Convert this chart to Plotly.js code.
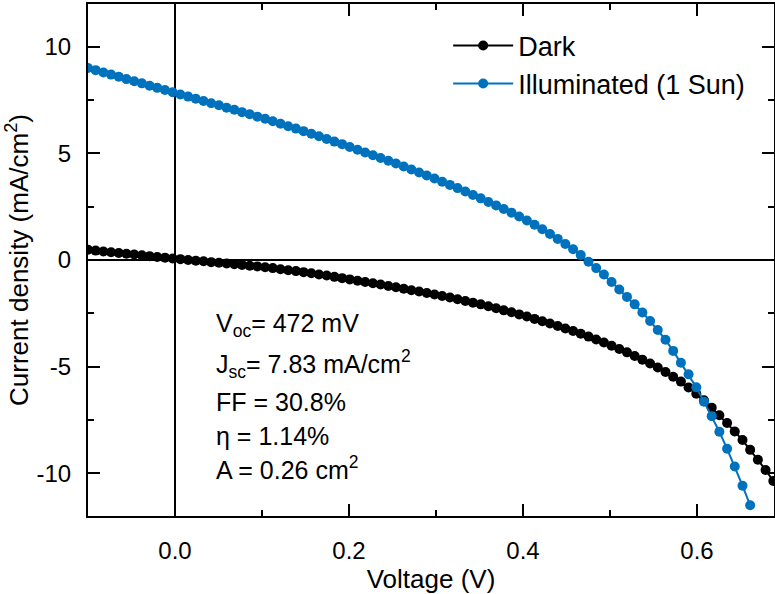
<!DOCTYPE html>
<html>
<head>
<meta charset="utf-8">
<script src="https://cdn.plot.ly/plotly-3.0.1.min.js"></script>
<style>html,body{margin:0;padding:0;background:#fff;}#chart{width:775px;height:594px;}</style>
</head>
<body>
<div id="chart"></div>
<script>
// Voltage sweep (V)
var voltage = [
  -0.1000, -0.0912, -0.0823, -0.0735, -0.0646, -0.0558, -0.0469, -0.0381, -0.0292, -0.0204,
  -0.0115, -0.0027, 0.0062, 0.0151, 0.0239, 0.0328, 0.0416, 0.0505, 0.0593, 0.0682,
  0.0770, 0.0859, 0.0947, 0.1036, 0.1124, 0.1213, 0.1301, 0.1390, 0.1478, 0.1567,
  0.1655, 0.1744, 0.1832, 0.1921, 0.2009, 0.2098, 0.2186, 0.2275, 0.2363, 0.2452,
  0.2540, 0.2629, 0.2717, 0.2806, 0.2894, 0.2983, 0.3071, 0.3160, 0.3248, 0.3337,
  0.3425, 0.3514, 0.3602, 0.3691, 0.3779, 0.3868, 0.3956, 0.4045, 0.4133, 0.4222,
  0.4310, 0.4399, 0.4487, 0.4576, 0.4664, 0.4753, 0.4841, 0.4930, 0.5018, 0.5107,
  0.5195, 0.5284, 0.5372, 0.5461, 0.5549, 0.5638, 0.5726, 0.5815, 0.5903, 0.5992,
  0.6080, 0.6169, 0.6257, 0.6346, 0.6434, 0.6523, 0.6611, 0.6700, 0.6788, 0.6877
];

// Dark current density (mA/cm^2)
var darkJ = [
  0.48, 0.44, 0.40, 0.36, 0.33, 0.29, 0.26, 0.22, 0.18, 0.14,
  0.11, 0.07, 0.04, 0.00, -0.03, -0.06, -0.10, -0.13, -0.16, -0.20,
  -0.23, -0.27, -0.30, -0.34, -0.38, -0.43, -0.48, -0.52, -0.57, -0.62,
  -0.68, -0.73, -0.79, -0.85, -0.91, -0.97, -1.03, -1.09, -1.15, -1.22,
  -1.28, -1.35, -1.42, -1.48, -1.55, -1.62, -1.69, -1.76, -1.84, -1.92,
  -2.00, -2.08, -2.17, -2.26, -2.36, -2.45, -2.55, -2.65, -2.76, -2.87,
  -2.98, -3.09, -3.21, -3.33, -3.46, -3.59, -3.73, -3.87, -4.02, -4.17,
  -4.33, -4.50, -4.67, -4.85, -5.04, -5.25, -5.47, -5.70, -5.98, -6.27,
  -6.58, -6.92, -7.28, -7.64, -8.04, -8.44, -8.90, -9.36, -9.84, -10.36
];

// Illuminated (1 Sun) current density (mA/cm^2)
var lightJ = [
  9.00, 8.90, 8.79, 8.69, 8.59, 8.48, 8.38, 8.28, 8.17, 8.07,
  7.97, 7.86, 7.76, 7.66, 7.56, 7.45, 7.35, 7.25, 7.14, 7.04,
  6.93, 6.83, 6.72, 6.62, 6.50, 6.39, 6.27, 6.16, 6.04, 5.92,
  5.80, 5.67, 5.55, 5.43, 5.30, 5.17, 5.04, 4.91, 4.78, 4.65,
  4.52, 4.38, 4.24, 4.10, 3.96, 3.82, 3.67, 3.52, 3.37, 3.21,
  3.05, 2.89, 2.72, 2.56, 2.39, 2.22, 2.04, 1.85, 1.65, 1.44,
  1.22, 0.99, 0.75, 0.50, 0.23, -0.08, -0.38, -0.68, -1.03, -1.38,
  -1.73, -2.08, -2.46, -2.86, -3.28, -3.74, -4.26, -4.82, -5.36, -5.97,
  -6.64, -7.32, -8.05, -8.85, -9.68, -10.58, -11.50
];

var seriesNames = ['Dark', 'Illuminated (1 Sun)'];

var xTickVals = [0.0, 0.2, 0.4, 0.6];
var xTickText = ['0.0', '0.2', '0.4', '0.6'];
var xMinorVals = [-0.1, 0.1, 0.3, 0.5];
var yTickVals = [-10, -5, 0, 5, 10];
var yTickText = ['-10', '-5', '0', '5', '10'];
var yMinorVals = [-7.5, -2.5, 2.5, 7.5];

var statLines = [
  'V<sub>oc</sub>= 472 mV',
  'J<sub>sc</sub>= 7.83 mA/cm<sup>2</sup>',
  'FF = 30.8%',
  '\u03b7 = 1.14%',
  'A = 0.26 cm<sup>2</sup>'
];
var statY = [0.373, 0.297, 0.2217, 0.156, 0.0938];

var FONT = 'Liberation Sans, Arial, Helvetica, sans-serif';
var BLUE = '#0072BD';

var traces = [
  {
    x: voltage.slice(0, darkJ.length), y: darkJ, name: seriesNames[0],
    type: 'scatter', mode: 'lines+markers',
    line: {color: '#000000', width: 2},
    marker: {color: '#000000', size: 10, symbol: 'circle'}
  },
  {
    x: voltage.slice(0, lightJ.length), y: lightJ, name: seriesNames[1],
    type: 'scatter', mode: 'lines+markers',
    line: {color: BLUE, width: 2},
    marker: {color: BLUE, size: 10, symbol: 'circle'}
  }
];

var annotations = statLines.map(function (t, i) {
  return {
    text: t, xref: 'paper', yref: 'paper', x: 0.184, y: statY[i],
    xanchor: 'left', yanchor: 'middle', showarrow: false,
    font: {family: FONT, size: 25, color: '#000'}
  };
});

var axisCommon = {
  showline: true, linecolor: '#000', linewidth: 2, mirror: 'ticks',
  ticks: 'inside', ticklen: 12, tickwidth: 2, tickcolor: '#000',
  showgrid: false, zeroline: true, zerolinecolor: '#000', zerolinewidth: 1.5,
  tickfont: {family: FONT, size: 24, color: '#000'},
  tickmode: 'array'
};

var layout = {
  width: 775, height: 594,
  margin: {l: 88, r: 1, t: 4, b: 78, pad: 0},
  paper_bgcolor: '#fff', plot_bgcolor: '#fff',
  font: {family: FONT, size: 24, color: '#000'},
  showlegend: true,
  legend: {
    x: 0.525, y: 0.966, xanchor: 'left', yanchor: 'top',
    bgcolor: 'rgba(0,0,0,0)', borderwidth: 0,
    font: {family: FONT, size: 27, color: '#000'},
    itemwidth: 60
  },
  xaxis: Object.assign({}, axisCommon, {
    range: [-0.1, 0.6885], ticklabelstandoff: 12,
    tickvals: xTickVals, ticktext: xTickText,
    minor: {tickmode: 'array', tickvals: xMinorVals, ticks: 'inside', ticklen: 6, tickwidth: 2, tickcolor: '#000', showgrid: false},
    title: {text: 'Voltage (V)', font: {family: FONT, size: 26, color: '#000'}, standoff: 10}
  }),
  yaxis: Object.assign({}, axisCommon, {
    range: [-12, 12], ticklabelstandoff: 10,
    tickvals: yTickVals, ticktext: yTickText,
    minor: {tickmode: 'array', tickvals: yMinorVals, ticks: 'inside', ticklen: 6, tickwidth: 2, tickcolor: '#000', showgrid: false},
    title: {text: 'Current density (mA/cm<sup>2</sup>)', font: {family: FONT, size: 26, color: '#000'}, standoff: 0}
  }),
  annotations: annotations
};

Plotly.newPlot('chart', traces, layout, {displayModeBar: false, staticPlot: true});
</script>
</body>
</html>
